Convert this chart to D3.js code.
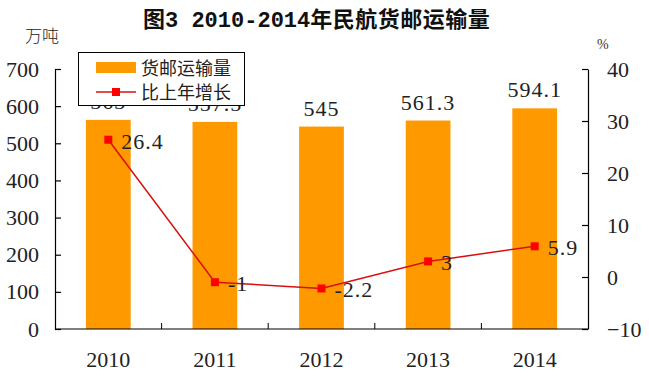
<!DOCTYPE html>
<html><head><meta charset="utf-8">
<script src="https://cdn.jsdelivr.net/npm/d3@7"></script>
<style>body{margin:0;background:#fff}svg{display:block}</style>
</head><body>
<script>
const years = ["2010","2011","2012","2013","2014"];
const volume = [563, 557.5, 545, 561.3, 594.1];
const volumeLabels = ["563","557.5","545","561.3","594.1"];
const growth = [26.4, -1, -2.2, 3, 5.9];
const leftTicks = [0,100,200,300,400,500,600,700];
const rightTicks = [-10,0,10,20,30,40];

const W=649,H=385;
const m={l:55,r:61,t:69,b:56};
const svg=d3.select("body").append("svg").attr("width",W).attr("height",H);
const x=d3.scaleBand().domain(years).range([m.l,W-m.r]);
const yL=d3.scaleLinear().domain([0,700]).range([H-m.b,m.t]);
const yR=d3.scaleLinear().domain([-10,40]).range([H-m.b,m.t]);
const num="'Liberation Serif','Times New Roman',serif";
const cjk="'Noto Sans CJK SC',sans-serif";
const mono="'Liberation Mono','DejaVu Sans Mono',monospace";

// title
const t=svg.append("text").attr("x",143).attr("y",27).attr("font-weight","bold").attr("fill","#111");
t.append("tspan").attr("font-family",cjk).attr("font-size",22).text("图");
t.append("tspan").attr("font-family",mono).attr("font-size",22).text("3 2010-2014");
t.append("tspan").attr("font-family",cjk).attr("font-size",22).attr("letter-spacing",0.5).text("年民航货邮运输量");
svg.append("text").attr("x",25).attr("y",42).attr("font-family",cjk).attr("font-weight",300).attr("font-size",17).attr("fill","#222").text("万吨");
svg.append("text").attr("x",597).attr("y",49).attr("font-family",num).attr("font-size",14).attr("fill","#333").text("%");

// bars
const bw=x.bandwidth()*0.42;
svg.selectAll("rect.bar").data(volume).join("rect").attr("class","bar")
  .attr("x",(d,i)=>x(years[i])+x.bandwidth()/2-bw/2).attr("width",bw)
  .attr("y",d=>yL(d)).attr("height",d=>yL(0)-yL(d)).attr("fill","#FF9900");
svg.selectAll("text.bl").data(volume).join("text").attr("class","bl")
  .attr("x",(d,i)=>x(years[i])+x.bandwidth()/2).attr("y",d=>yL(d)-11)
  .attr("text-anchor","middle").attr("font-family",num).attr("font-size",22).attr("fill","#222")
  .attr("letter-spacing",1)
  .text((d,i)=>volumeLabels[i]);

// axes
const axL=svg.append("g").attr("transform",`translate(${m.l},0)`)
  .call(d3.axisLeft(yL).tickValues(leftTicks).tickSizeInner(-6).tickSizeOuter(0).tickPadding(16));
const axR=svg.append("g").attr("transform",`translate(${W-m.r},0)`)
  .call(d3.axisRight(yR).tickValues(rightTicks).tickSizeInner(-6).tickSizeOuter(0).tickPadding(19));
const axB=svg.append("g").attr("transform",`translate(0,${H-m.b})`)
  .call(d3.axisBottom(x).tickSize(0).tickPadding(22));
// category boundary ticks
svg.selectAll("line.ct").data(years.slice(1)).join("line").attr("class","ct")
  .attr("x1",d=>x(d)).attr("x2",d=>x(d)).attr("y1",H-m.b).attr("y2",H-m.b-6)
  .attr("stroke","#000");
[axL,axR,axB].forEach(a=>{
  a.selectAll("path,line").attr("stroke","#000").attr("stroke-width",1.2);
  a.selectAll("text").attr("font-family",num).attr("font-size",22).attr("fill","#222");
});
axB.select(".domain").attr("d",`M${m.l},0H${W-m.r}`);

// line
const cx=(i)=>x(years[i])+x.bandwidth()/2;
const line=d3.line().x((d,i)=>cx(i)).y(d=>yR(d));
svg.append("path").datum(growth).attr("d",line).attr("fill","none").attr("stroke","#D81010").attr("stroke-width",1.5);
svg.selectAll("rect.mk").data(growth).join("rect").attr("class","mk")
  .attr("x",(d,i)=>cx(i)-4).attr("y",d=>yR(d)-4).attr("width",8).attr("height",8).attr("fill","#FF0000");
svg.selectAll("text.gl").data(growth).join("text").attr("class","gl")
  .attr("x",(d,i)=>cx(i)+13).attr("y",d=>yR(d)+9)
  .attr("font-family",num).attr("font-size",22).attr("fill","#222").attr("letter-spacing",1)
  .text(d=>d);

// legend
const lg=svg.append("g");
lg.append("rect").attr("x",78.5).attr("y",52.5).attr("width",166).attr("height",53)
  .attr("fill","#fff").attr("stroke","#000").attr("stroke-width",1);
lg.append("rect").attr("x",96).attr("y",62).attr("width",40).attr("height",11).attr("fill","#FF9900");
lg.append("text").attr("x",141).attr("y",75).attr("font-family",cjk).attr("font-size",18).attr("fill","#222").text("货邮运输量");
lg.append("line").attr("x1",96).attr("x2",136).attr("y1",92).attr("y2",92).attr("stroke","#D81010").attr("stroke-width",1.5);
lg.append("rect").attr("x",112).attr("y",88).attr("width",8).attr("height",8).attr("fill","#FF0000");
lg.append("text").attr("x",141).attr("y",99).attr("font-family",cjk).attr("font-size",18).attr("fill","#222").text("比上年增长");
</script>
</body></html>
